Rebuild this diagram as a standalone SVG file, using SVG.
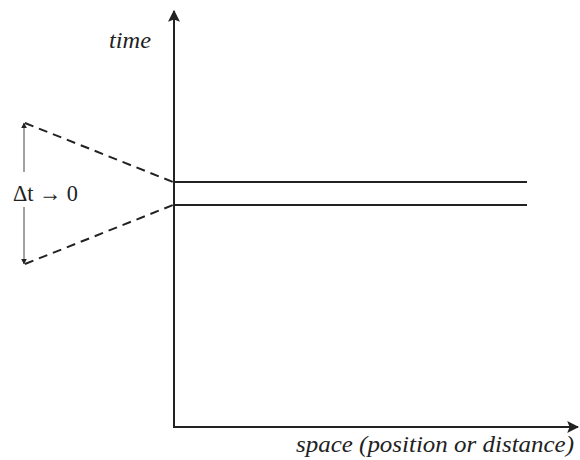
<svg xmlns="http://www.w3.org/2000/svg" width="580" height="460" viewBox="0 0 580 460">
<style>
.ax{stroke:#222;stroke-width:2;fill:none}
.ln{stroke:#222;stroke-width:2;fill:none}
.ds{stroke:#222;stroke-width:2;fill:none;stroke-dasharray:9,6}
.th{stroke:#444;stroke-width:1;fill:none}
text{font-family:'Liberation Serif','Times New Roman','DejaVu Serif',serif;font-size:24px;fill:#222}
.it{font-style:italic}
</style>
<defs>
<marker id="sm" viewBox="0 0 10 10" refX="9" refY="5" markerWidth="6" markerHeight="6" markerUnits="userSpaceOnUse" orient="auto">
<path d="M0,0 L10,5 L0,10 z" fill="#222"/>
</marker>
<marker id="ah2" viewBox="0 0 10 10" refX="9" refY="5" markerWidth="12" markerHeight="18" markerUnits="userSpaceOnUse" orient="auto">
<path d="M0,0 L10,5 L0,10 L2,5 z" fill="#222"/>
</marker>
</defs>
<g id="connectors">
<line id="time-axis" class="ax" x1="174" y1="428" x2="174" y2="11" marker-end="url(#ah2)"/>
<line id="space-axis" class="ax" x1="173" y1="427" x2="578" y2="427" marker-end="url(#ah2)"/>
<line class="ln" x1="174" y1="182" x2="527" y2="182"/>
<line class="ln" x1="174" y1="205" x2="527" y2="205"/>
<line class="ds" x1="25" y1="123" x2="173" y2="182"/>
<line class="ds" x1="25" y1="264" x2="173" y2="205"/>
<line class="th" x1="24" y1="172" x2="24" y2="123" marker-end="url(#sm)"/>
<line class="th" x1="24" y1="207" x2="24" y2="264" marker-end="url(#sm)"/>
</g>
<g id="label-time"><text class="it" x="109" y="48" textLength="42" lengthAdjust="spacingAndGlyphs">time</text></g>
<g id="label-space"><text class="it" x="296" y="452" textLength="278" lengthAdjust="spacingAndGlyphs">space (position or distance)</text></g>
<g id="label-dt"><text x="13" y="201" textLength="65" lengthAdjust="spacingAndGlyphs">Δt → 0</text></g>
</svg>
